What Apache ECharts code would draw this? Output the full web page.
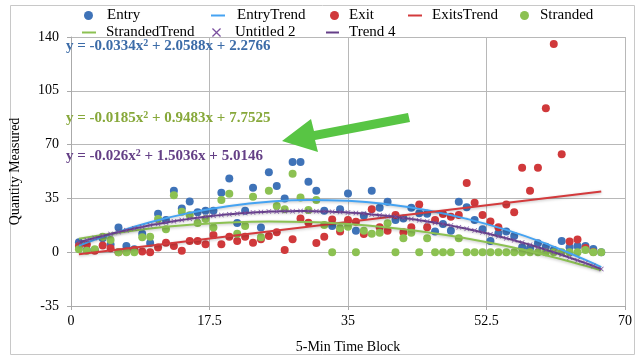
<!DOCTYPE html>
<html>
<head>
<meta charset="utf-8">
<script src="https://cdn.jsdelivr.net/npm/echarts@6/dist/echarts.min.js"></script>
<style>
html,body{margin:0;padding:0;background:#fff;}
#c{width:639px;height:362px;}
</style>
</head>
<body>
<div id="c"></div>
<script>
// x positions: 5-minute time blocks
var timeBlocks = [1,2,3,4,5,6,7,8,9,10,11,12,13,14,15,16,17,18,19,20,21,22,23,24,25,26,27,28,29,30,31,32,33,34,35,36,37,38,39,40,41,42,43,44,45,46,47,48,49,50,51,52,53,54,55,56,57,58,59,60,61,62,63,64,65,66,67];

var entry = [6.5,1.5,1.5,9,5,16,4,2,12,6,25,21,40,28.5,33,26,27,27,38.6,48,19,27,42,16,52,43,35,58.7,58.7,45.8,40,27,17,28,38.2,14,23.7,40,28.9,32.8,21,22,28.9,25.3,25,13.4,18.3,14,32.8,29.2,21,15,7.3,12.3,13.4,10.6,3.2,2.6,5.8,3.6,1.5,7.3,3.2,4,4,2.1,0];

var exitVals = [4,5,1,4.3,2.6,0,0.5,1.5,0.5,0,3,6.2,4,1,7.3,7.3,5.2,11.2,5.2,10,7.3,10,6.2,8.5,10.5,13,1.5,8.4,22,19.2,6,10,21.2,13.4,21,19.8,11.9,28,16.2,14,24.2,13,16.2,31,16.2,21,24.8,23,24.2,45,32.2,24.2,20,16.2,31,26,55,40,55,93.7,135.5,63.7,7,8.2,2.8,0.2,null];

var stranded = [2,1,2,10,8,0,0,0,9.7,10,21.6,15,37,26.3,24,19,21.6,16,34,38,12,17,36,9.7,40,30,28,51,35.6,27.4,34,17.7,0,15.5,16.6,0,14,12,12.7,18.8,0,9,12.7,0,9,0,0,0,9,0,0,0,0,0,0,0,0,0,0,0,0,0,0,0,1.5,0,0];

var untitled2 = [6.5,7.9,9.3,10.6,11.9,13.1,14.3,15.4,16.4,17.5,18.4,19.3,20.2,21.0,21.7,22.4,23.1,23.7,24.2,24.7,25.1,25.5,25.8,26.1,26.4,26.5,26.7,26.7,26.8,26.7,26.6,26.5,26.3,26.1,25.8,25.5,25.1,24.6,24.1,23.6,23.0,22.3,21.6,20.8,20.0,19.2,18.3,17.3,16.3,15.2,14.1,12.9,11.7,10.4,9.1,7.7,6.3,4.8,3.2,1.6,0.0,-1.7,-3.5,-5.3,-7.1,-9.0,-11.0];

// trend-line samples
var trendX = [1,5,10,15,20,25,30,35,40,45,50,55,60,65,67];
var entryTrend = [4.3,11.7,19.5,25.6,30.1,32.9,34.0,33.4,31.2,27.3,21.7,14.5,5.6,-5.0,-9.7];
var strandedTrend = [8.7,12.0,15.4,17.8,19.3,19.9,19.6,18.3,16.1,13.0,8.9,4.0,-2.0,-8.8,-11.8];
var exitsTrendX = [1,67];
var exitsTrend = [-1.4,39.5];

var xTicks = ['0','17.5','35','52.5','70'];
var yTicks = ['-35','0','35','70','105','140'];

var eqEntry = ['y = -0.0334x', '2', ' + 2.0588x + 2.2766'];
var eqStranded = ['y = -0.0185x', '2', ' + 0.9483x + 7.7525'];
var eqTrend4 = ['y = -0.026x', '2', ' + 1.5036x + 5.0146'];

function pairs(xs, ys){ var o=[]; for(var i=0;i<xs.length;i++){ if(ys[i]!==null) o.push([xs[i], ys[i]]); } return o; }

var C = {
  entry:'#3f73b8', entryTrend:'#45a3f2', exit:'#d0393b', exitTrend:'#d33a3c',
  stranded:'#8cc152', strandedTrend:'#8cc152', u2:'#7a4f9f', trend4:'#653f88'
};
var SERIF = '"Liberation Serif","Times New Roman",serif';
var XPATH = 'path://M0,1L1,0L5,4L9,0L10,1L6,5L10,9L9,10L5,6L1,10L0,9L4,5Z';

var chart = echarts.init(document.getElementById('c'), null, {renderer:'canvas'});

function leg(name, left, top, icon, w, h, pad){
  return {data:[name], left:left, top:top, icon:icon, itemWidth:w, itemHeight:h, padding:0,
    selectedMode:false, textStyle:{fontFamily:SERIF, fontSize:15, color:'#000', padding:[0,0,0,pad]}};
}

function eqText(parts, color, x, y){
  return {type:'text', left:x, top:y, z:100, style:{
    text:'{a|'+parts[0]+'}{s|'+parts[1]+'}{a|'+parts[2]+'}',
    rich:{
      a:{fontFamily:SERIF, fontWeight:'bold', fontSize:15, fill:color, lineHeight:17},
      s:{fontFamily:SERIF, fontWeight:'bold', fontSize:10, fill:color, padding:[0,0,7,0], lineHeight:17}
    }
  }};
}

var option = {
  animation:false,
  legend:[
    leg('Entry', 84, 8, 'circle', 9, 9, 9),
    leg('EntryTrend', 211, 8, 'rect', 14, 2, 7),
    leg('Exit', 330, 8, 'circle', 9, 9, 5),
    leg('ExitsTrend', 408, 8, 'rect', 14, 2, 5),
    leg('Stranded', 520, 8, 'circle', 9, 9, 6),
    leg('StrandedTrend', 82, 25, 'rect', 14, 2, 5),
    leg('Untitled 2', 212, 25, XPATH, 9, 9, 9),
    leg('Trend 4', 326, 25, 'rect', 13, 2, 5)
  ],
  grid:{left:65, right:14, top:37, bottom:56},
  xAxis:{
    type:'value', min:0, max:70, interval:17.5,
    name:'5-Min Time Block', nameLocation:'middle', nameGap:34,
    nameTextStyle:{fontFamily:SERIF, fontSize:14, color:'#000'},
    axisLine:{show:true, onZero:false, lineStyle:{color:'#aaa', width:1}},
    axisTick:{show:true, length:4, lineStyle:{color:'#aaa'}},
    axisLabel:{fontFamily:SERIF, fontSize:14, color:'#000', margin:8,
      formatter:function(v){ var i = Math.round(v/17.5); return xTicks[i]; }},
    splitLine:{show:true, lineStyle:{color:'#b8b8b8', width:1}}
  },
  yAxis:{
    type:'value', min:-35, max:140, interval:35,
    name:'Quantity Measured', nameLocation:'middle', nameGap:49, nameRotate:90,
    nameTextStyle:{fontFamily:SERIF, fontSize:14, color:'#000'},
    axisLine:{show:true, lineStyle:{color:'#aaa', width:1}},
    axisTick:{show:true, length:4, lineStyle:{color:'#aaa'}},
    axisLabel:{fontFamily:SERIF, fontSize:14, color:'#000', margin:12,
      formatter:function(v){ var i = Math.round((v+35)/35); return yTicks[i]; }},
    splitLine:{show:true, lineStyle:{color:'#b8b8b8', width:1}}
  },
  series:[
    {name:'Entry', type:'scatter', data:pairs(timeBlocks, entry), symbolSize:8, itemStyle:{color:C.entry, opacity:1}, z:3},
    {name:'EntryTrend', type:'line', data:pairs(trendX, entryTrend), smooth:0.5, showSymbol:false, symbol:'none',
      lineStyle:{color:C.entryTrend, width:2, shadowColor:'rgba(0,0,0,0.25)', shadowBlur:3, shadowOffsetY:1}, itemStyle:{color:C.entryTrend}, z:5},
    {name:'Exit', type:'scatter', data:pairs(timeBlocks, exitVals), symbolSize:8, itemStyle:{color:C.exit, opacity:1}, z:3},
    {name:'ExitsTrend', type:'line', data:pairs(exitsTrendX, exitsTrend), showSymbol:false, symbol:'none',
      lineStyle:{color:C.exitTrend, width:2, shadowColor:'rgba(0,0,0,0.25)', shadowBlur:3, shadowOffsetY:1}, itemStyle:{color:C.exitTrend}, z:5},
    {name:'Stranded', type:'scatter', data:pairs(timeBlocks, stranded), symbolSize:8, itemStyle:{color:C.stranded, opacity:1}, z:3},
    {name:'StrandedTrend', type:'line', data:pairs(trendX, strandedTrend), smooth:0.5, showSymbol:false, symbol:'none',
      lineStyle:{color:C.strandedTrend, width:2, shadowColor:'rgba(0,0,0,0.25)', shadowBlur:3, shadowOffsetY:1}, itemStyle:{color:C.strandedTrend}, z:5},
    {name:'Untitled 2', type:'scatter', data:pairs(timeBlocks, untitled2), symbol:XPATH, symbolSize:5, itemStyle:{color:C.u2, opacity:1}, z:7},
    {name:'Trend 4', type:'line', data:pairs(timeBlocks, untitled2), smooth:0.3, showSymbol:false, symbol:'none',
      lineStyle:{color:C.trend4, width:2, shadowColor:'rgba(0,0,0,0.25)', shadowBlur:3, shadowOffsetY:1}, itemStyle:{color:C.trend4}, z:6}
  ],
  graphic:[
    {type:'rect', left:8, top:3, z:-1, silent:true, shape:{width:624, height:349}, style:{fill:'none', stroke:'#c8c8c8', lineWidth:1}},
    eqText(eqEntry, '#3c6ca8', 66, 38),
    eqText(eqStranded, '#87a83a', 66, 110),
    eqText(eqTrend4, '#643f86', 66, 148),
    {type:'polygon', z:100, silent:true, shape:{points:[[408,113],[314,131],[311,119],[282,141],[318,152],[315,140],[410,122]]},
      style:{fill:'#58c544'}}
  ]
};
chart.setOption(option);
</script>
</body>
</html>
